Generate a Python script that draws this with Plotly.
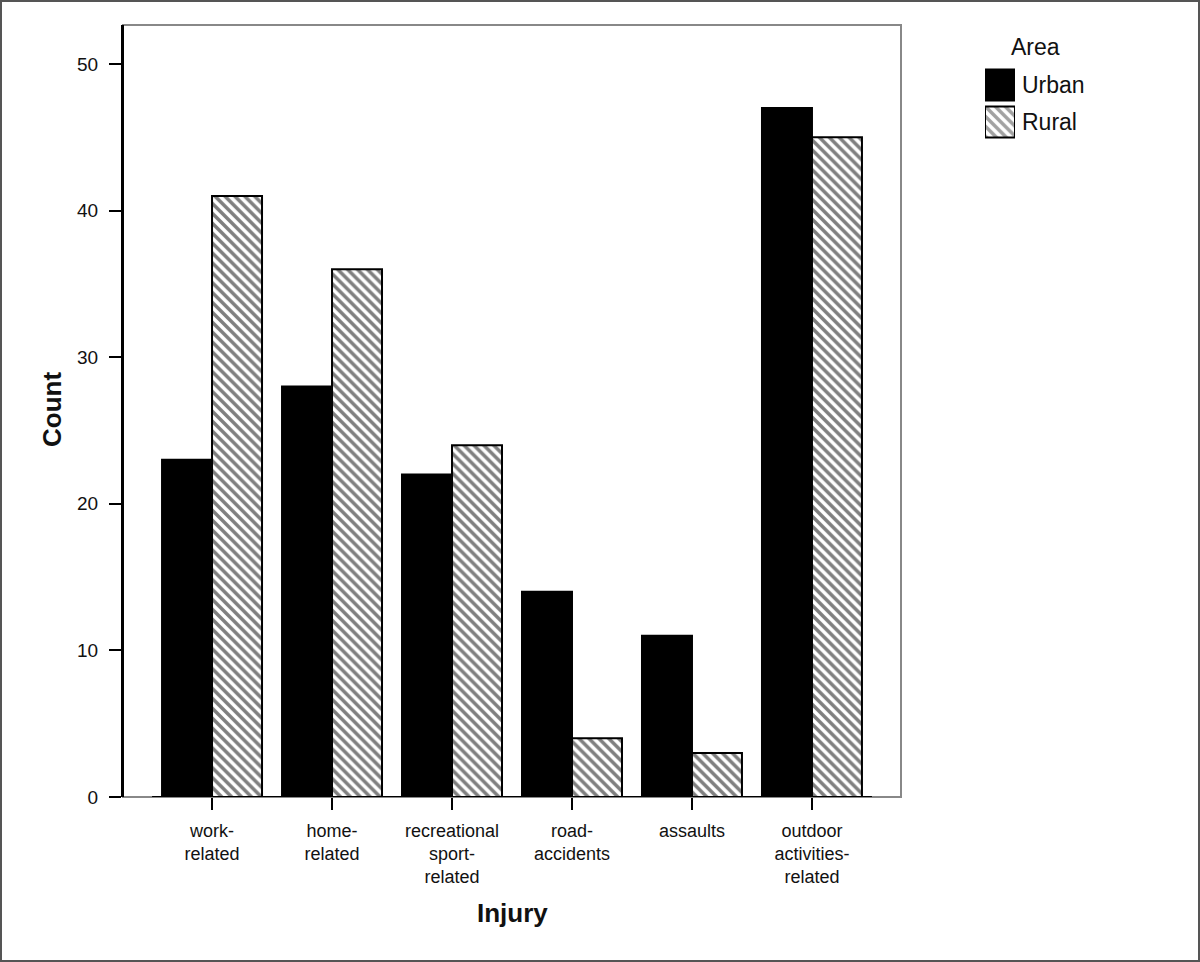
import plotly.graph_objects as go

categories = [
    "work-<br>related",
    "home-<br>related",
    "recreational<br>sport-<br>related",
    "road-<br>accidents",
    "assaults",
    "outdoor<br>activities-<br>related",
]
urban = [23, 28, 22, 14, 11, 47]
rural = [41, 36, 24, 4, 3, 45]
legend_names = ["Urban", "Rural"]
y_ticks = [0, 10, 20, 30, 40, 50]

W, H = 1200, 962
ML, MR, MT, MB = 123, 80, 25, 165
PW, PH = W - ML - MR, H - MT - MB
FONT = "Liberation Sans, Arial, sans-serif"


def px_x(x):
    return (x - ML) / PW


def px_y(y):
    return (H - MB - y) / PH


fig = go.Figure()

bar_line = dict(color="black", width=2)
hatch = dict(shape="\\", fgcolor="black", bgcolor="white", size=7, solidity=0.5)
fig.add_trace(go.Bar(
    x=categories, y=urban, name="Urban",
    marker=dict(color="black", line=bar_line),
    showlegend=False,
))
fig.add_trace(go.Bar(
    x=categories, y=rural, name="Rural",
    marker=dict(color="white", line=bar_line, pattern=hatch),
    showlegend=False,
))

# legend drawn as a small bar chart so the swatches can be large
fig.add_trace(go.Bar(
    x=[1, 1], y=legend_names, orientation="h",
    xaxis="x2", yaxis="y2", showlegend=False, hoverinfo="skip",
    marker=dict(color=["black", "white"], line=bar_line,
                pattern=dict(shape=["", "\\"], fgcolor="black", bgcolor="white",
                             size=7, solidity=0.5)),
))

main_right = px_x(901)
fig.update_layout(
    width=W, height=H,
    margin=dict(l=ML, r=MR, t=MT, b=MB),
    paper_bgcolor="white", plot_bgcolor="white",
    font=dict(family=FONT, color="#111"),
    barmode="group", bargap=0.1667, bargroupgap=0,
    xaxis=dict(
        domain=[0, main_right],
        range=[-0.742, 5.742],
        showline=False, showgrid=False, zeroline=False,
        ticks="outside", ticklen=12, tickwidth=1.5, tickcolor="black",
        tickfont=dict(size=18, family=FONT, color="#111"),
        ticklabelstandoff=5,
        tickangle=0,
    ),
    yaxis=dict(
        range=[0, 52.66],
        tickvals=y_ticks,
        showline=True, linecolor="black", linewidth=2,
        showgrid=False, zeroline=False,
        ticks="outside", ticklen=12, tickwidth=1.5, tickcolor="black",
        tickfont=dict(size=19, family=FONT, color="#111"),
        ticklabelstandoff=7,
    ),
    xaxis2=dict(
        domain=[px_x(985), px_x(1015)], anchor="y2",
        range=[0, 1], visible=False, fixedrange=True,
    ),
    yaxis2=dict(
        domain=[px_y(140.5), px_y(66.5)], anchor="x2",
        autorange="reversed", side="right",
        showline=False, showgrid=False, zeroline=False, ticks="",
        tickfont=dict(size=23, family=FONT, color="#111"),
        ticklabelstandoff=6,
        fixedrange=True,
    ),
)

annotations = [
    dict(text="<b>Count</b>", x=px_x(52), y=px_y(410), textangle=-90,
         font=dict(size=26, family=FONT, color="#111")),
    dict(text="<b>Injury</b>", x=px_x(512), y=px_y(913),
         font=dict(size=26, family=FONT, color="#111")),
    dict(text="Area", x=px_x(1035), y=px_y(47),
         font=dict(size=23, family=FONT, color="#111")),
]
for a in annotations:
    fig.add_annotation(xref="paper", yref="paper", showarrow=False,
                       xanchor="center", yanchor="middle", **a)

# plot frame (grey) and black baseline
fig.add_shape(type="rect", xref="x domain", yref="y domain",
              x0=0, x1=1, y0=0, y1=1, line=dict(color="#888", width=2))
fig.add_shape(type="line", xref="x", yref="y", x0=-0.5, x1=5.5, y0=0, y1=0,
              line=dict(color="black", width=2))
fig.add_shape(type="line", xref="x domain", yref="y domain", x0=0, x1=0, y0=0, y1=1,
              line=dict(color="black", width=2))
# outer image border
fig.add_shape(type="rect", xref="paper", yref="paper",
              x0=-ML / PW, x1=1 + MR / PW, y0=-MB / PH, y1=1 + MT / PH,
              line=dict(color="#555", width=4))

fig.write_html("out.html", config={"displayModeBar": False},
               post_script="document.body.style.margin='0';")
